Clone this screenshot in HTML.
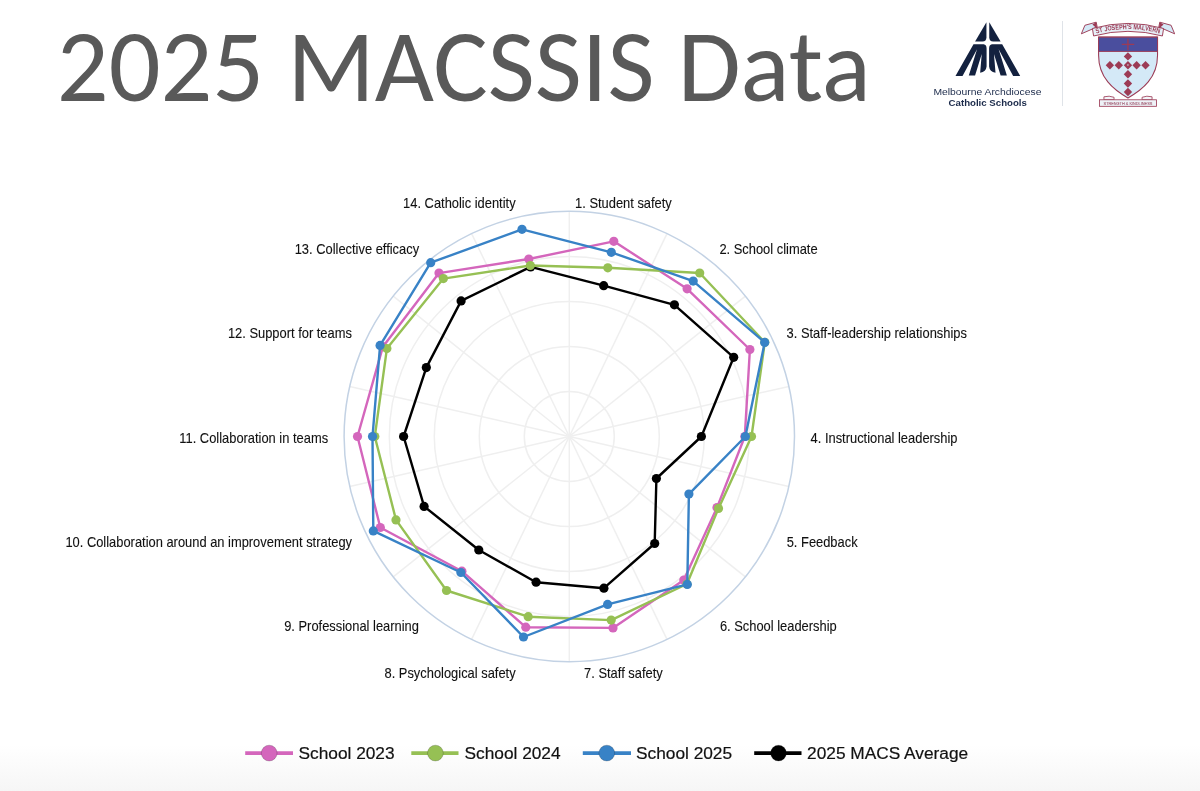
<!DOCTYPE html>
<html><head><meta charset="utf-8"><title>2025 MACSSIS Data</title>
<style>
html,body{margin:0;padding:0;background:#fff;}
body{width:1200px;height:791px;position:relative;overflow:hidden;background:linear-gradient(to bottom,#fff 0,#fff 745px,#f6f6f6 791px);}
h1{position:absolute;left:56.8px;top:14.5px;margin:0;font-family:"Carlito","Liberation Sans",sans-serif;font-weight:normal;color:#595959;font-size:102.3px;line-height:1;white-space:nowrap;}
.mt1,.mt2{position:absolute;font-family:"Liberation Sans",Arial,sans-serif;color:#1b2a4a;white-space:nowrap;line-height:1;}
.mt1{left:933.3px;top:88.4px;font-size:9.4px;letter-spacing:0.55px;}
.mt2{left:948.8px;top:98.8px;font-size:9.8px;font-weight:bold;}
.div{position:absolute;left:1062px;top:21px;width:1px;height:85px;background:#dfe3e8;}
svg.chart,svg.title{position:absolute;left:0;top:0;}
</style></head><body>
<svg class="title" width="900" height="130" viewBox="0 0 900 130"><text x="56.8" y="100.5" textLength="813.9" lengthAdjust="spacingAndGlyphs" font-family="Carlito, Liberation Sans, sans-serif" font-size="102.3" fill="#595959">2025 MACSSIS Data</text></svg>
<svg style="position:absolute;left:950px;top:18px" width="76" height="62" viewBox="0 0 970 791">
<g fill="#13213f">
<g id="h">
<path d="M465,55 L465,245 Q465,298 415,300 L320,300 Z"/>
<path d="M300,335 L430,335 Q467,340 467,390 L467,620 Q460,690 385,700 L405,460 L320,735 L240,735 L345,400 L160,740 L70,740 Z"/>
</g>
<g transform="translate(966,0) scale(-1,1)">
<path d="M465,55 L465,245 Q465,298 415,300 L320,300 Z"/>
<path d="M300,335 L430,335 Q467,340 467,390 L467,620 Q460,690 385,700 L405,460 L320,735 L240,735 L345,400 L160,740 L70,740 Z"/>
</g>
</g></svg>
<svg style="position:absolute;left:920px;top:80px" width="140" height="32" viewBox="920 80 140 32"><g font-family="Liberation Sans, Arial, sans-serif" fill="#1b2a4a">
<text x="933.4" y="94.9" font-size="9.7" textLength="108" lengthAdjust="spacingAndGlyphs">Melbourne Archdiocese</text>
<text x="948.6" y="106.2" font-size="9.8" font-weight="bold" textLength="78.3" lengthAdjust="spacingAndGlyphs">Catholic Schools</text>
</g></svg>
<div class="div"></div>

<svg style="position:absolute;left:1076px;top:16px" width="104" height="94" viewBox="0 0 875 791">
<path d="M190,178 H686 V330 C686,520 560,620 437,690 C315,620 190,520 190,330 Z" fill="#d4e9f7" stroke="#9c3b55" stroke-width="9"/>
<path d="M190,178 H686 V298 H190 Z" fill="#4a4e9e" stroke="#9c3b55" stroke-width="8"/>
<path d="M437,192 V286 M385,238 H490" stroke="#9c3b55" stroke-width="11"/>
<g fill="#9c3b55"><rect x="412" y="315" width="50" height="50" transform="rotate(45 437 340)"/><rect x="260" y="390" width="50" height="50" transform="rotate(45 285 415)"/><rect x="335" y="390" width="50" height="50" transform="rotate(45 360 415)"/><rect x="412" y="390" width="50" height="50" transform="rotate(45 437 415)"/><rect x="485" y="390" width="50" height="50" transform="rotate(45 510 415)"/><rect x="560" y="390" width="50" height="50" transform="rotate(45 585 415)"/><rect x="412" y="465" width="50" height="50" transform="rotate(45 437 490)"/><rect x="412" y="543" width="50" height="50" transform="rotate(45 437 568)"/><rect x="412" y="615" width="50" height="50" transform="rotate(45 437 640)"/></g>
<circle cx="437" cy="412" r="6" fill="#d4e9f7"/>
<path d="M45,150 L75,78 L170,52 L178,92 Z" fill="#d4e9f7" stroke="#9c3b55" stroke-width="8"/>
<path d="M830,150 L800,78 L705,52 L697,92 Z" fill="#d4e9f7" stroke="#9c3b55" stroke-width="8"/>
<path d="M138,105 Q437,20 737,105 L727,168 Q437,90 148,168 Z" fill="#e6f0f8" stroke="#9c3b55" stroke-width="8"/>
<path d="M138,72 L170,52 L178,108 Z M737,72 L705,52 L697,108 Z" fill="#9c3b55"/>
<path id="arc" d="M160,150 Q437,70 715,150" fill="none"/>
<text font-family="Liberation Sans, sans-serif" font-weight="bold" font-size="58" fill="#9c3b55"><textPath href="#arc" startOffset="50%" text-anchor="middle" textLength="540" lengthAdjust="spacingAndGlyphs">ST JOSEPH'S MALVERN</textPath></text>
<path d="M235,680 Q280,668 320,684 L320,705 L235,705 Z M640,680 Q595,668 556,684 L556,705 L640,705 Z" fill="#f3f6fa" stroke="#9c3b55" stroke-width="7"/>
<rect x="198" y="705" width="480" height="55" fill="#eef3f8" stroke="#9c3b55" stroke-width="7"/>
<text x="437" y="748" text-anchor="middle" font-family="Liberation Sans, sans-serif" font-weight="normal" font-size="36" fill="#a0566c" stroke="#a0566c" stroke-width="0.7" textLength="410" lengthAdjust="spacingAndGlyphs">STRENGTH &amp; KINDLINESS</text>
</svg>
<svg class="chart" width="1200" height="791" viewBox="0 0 1200 791">
<circle cx="569.3" cy="436.5" r="45" fill="none" stroke="#efefef" stroke-width="1.5"/>
<circle cx="569.3" cy="436.5" r="90" fill="none" stroke="#efefef" stroke-width="1.5"/>
<circle cx="569.3" cy="436.5" r="135" fill="none" stroke="#efefef" stroke-width="1.5"/>
<circle cx="569.3" cy="436.5" r="180" fill="none" stroke="#efefef" stroke-width="1.5"/>
<line x1="569.3" y1="436.5" x2="569.3" y2="211.3" stroke="#efefef" stroke-width="1.5"/>
<line x1="569.3" y1="436.5" x2="667.0" y2="233.6" stroke="#efefef" stroke-width="1.5"/>
<line x1="569.3" y1="436.5" x2="745.4" y2="296.1" stroke="#efefef" stroke-width="1.5"/>
<line x1="569.3" y1="436.5" x2="788.9" y2="386.4" stroke="#efefef" stroke-width="1.5"/>
<line x1="569.3" y1="436.5" x2="788.9" y2="486.6" stroke="#efefef" stroke-width="1.5"/>
<line x1="569.3" y1="436.5" x2="745.4" y2="576.9" stroke="#efefef" stroke-width="1.5"/>
<line x1="569.3" y1="436.5" x2="667.0" y2="639.4" stroke="#efefef" stroke-width="1.5"/>
<line x1="569.3" y1="436.5" x2="569.3" y2="661.7" stroke="#efefef" stroke-width="1.5"/>
<line x1="569.3" y1="436.5" x2="471.6" y2="639.4" stroke="#efefef" stroke-width="1.5"/>
<line x1="569.3" y1="436.5" x2="393.2" y2="576.9" stroke="#efefef" stroke-width="1.5"/>
<line x1="569.3" y1="436.5" x2="349.7" y2="486.6" stroke="#efefef" stroke-width="1.5"/>
<line x1="569.3" y1="436.5" x2="349.7" y2="386.4" stroke="#efefef" stroke-width="1.5"/>
<line x1="569.3" y1="436.5" x2="393.2" y2="296.1" stroke="#efefef" stroke-width="1.5"/>
<line x1="569.3" y1="436.5" x2="471.6" y2="233.6" stroke="#efefef" stroke-width="1.5"/>
<circle cx="569.3" cy="436.5" r="225.2" fill="none" stroke="#c3d2e4" stroke-width="1.5"/>
<polygon points="603.7,285.7 674.4,304.8 733.7,357.3 701.4,436.5 656.4,478.5 654.7,543.5 603.9,588.2 536.1,582.2 478.8,550.0 424.1,506.4 403.6,436.5 426.3,367.6 461.1,300.9 530.6,266.9" fill="none" stroke="#000000" stroke-width="2.4" stroke-linejoin="round"/>
<circle cx="603.7" cy="285.7" r="4.6" fill="#000000"/><circle cx="674.4" cy="304.8" r="4.6" fill="#000000"/><circle cx="733.7" cy="357.3" r="4.6" fill="#000000"/><circle cx="701.4" cy="436.5" r="4.6" fill="#000000"/><circle cx="656.4" cy="478.5" r="4.6" fill="#000000"/><circle cx="654.7" cy="543.5" r="4.6" fill="#000000"/><circle cx="603.9" cy="588.2" r="4.6" fill="#000000"/><circle cx="536.1" cy="582.2" r="4.6" fill="#000000"/><circle cx="478.8" cy="550.0" r="4.6" fill="#000000"/><circle cx="424.1" cy="506.4" r="4.6" fill="#000000"/><circle cx="403.6" cy="436.5" r="4.6" fill="#000000"/><circle cx="426.3" cy="367.6" r="4.6" fill="#000000"/><circle cx="461.1" cy="300.9" r="4.6" fill="#000000"/><circle cx="530.6" cy="266.9" r="4.6" fill="#000000"/>
<polygon points="613.8,241.3 687.1,288.8 749.9,349.5 744.8,436.5 717.0,507.6 683.8,580.1 613.0,627.9 525.8,627.2 461.9,571.2 380.3,527.5 357.5,436.5 382.9,346.7 439.0,273.1 528.8,259.0" fill="none" stroke="#d466bc" stroke-width="2.4" stroke-linejoin="round"/>
<circle cx="613.8" cy="241.3" r="4.6" fill="#d466bc"/><circle cx="687.1" cy="288.8" r="4.6" fill="#d466bc"/><circle cx="749.9" cy="349.5" r="4.6" fill="#d466bc"/><circle cx="744.8" cy="436.5" r="4.6" fill="#d466bc"/><circle cx="717.0" cy="507.6" r="4.6" fill="#d466bc"/><circle cx="683.8" cy="580.1" r="4.6" fill="#d466bc"/><circle cx="613.0" cy="627.9" r="4.6" fill="#d466bc"/><circle cx="525.8" cy="627.2" r="4.6" fill="#d466bc"/><circle cx="461.9" cy="571.2" r="4.6" fill="#d466bc"/><circle cx="380.3" cy="527.5" r="4.6" fill="#d466bc"/><circle cx="357.5" cy="436.5" r="4.6" fill="#d466bc"/><circle cx="382.9" cy="346.7" r="4.6" fill="#d466bc"/><circle cx="439.0" cy="273.1" r="4.6" fill="#d466bc"/><circle cx="528.8" cy="259.0" r="4.6" fill="#d466bc"/>
<polygon points="607.8,267.8 699.7,273.0 764.8,342.3 751.5,436.5 718.5,508.4 686.9,584.0 611.2,620.1 528.2,616.7 446.5,590.5 396.0,519.9 374.8,436.5 386.9,348.6 443.4,278.6 530.3,265.5" fill="none" stroke="#96c054" stroke-width="2.4" stroke-linejoin="round"/>
<circle cx="607.8" cy="267.8" r="4.6" fill="#96c054"/><circle cx="699.7" cy="273.0" r="4.6" fill="#96c054"/><circle cx="764.8" cy="342.3" r="4.6" fill="#96c054"/><circle cx="751.5" cy="436.5" r="4.6" fill="#96c054"/><circle cx="718.5" cy="508.4" r="4.6" fill="#96c054"/><circle cx="686.9" cy="584.0" r="4.6" fill="#96c054"/><circle cx="611.2" cy="620.1" r="4.6" fill="#96c054"/><circle cx="528.2" cy="616.7" r="4.6" fill="#96c054"/><circle cx="446.5" cy="590.5" r="4.6" fill="#96c054"/><circle cx="396.0" cy="519.9" r="4.6" fill="#96c054"/><circle cx="374.8" cy="436.5" r="4.6" fill="#96c054"/><circle cx="386.9" cy="348.6" r="4.6" fill="#96c054"/><circle cx="443.4" cy="278.6" r="4.6" fill="#96c054"/><circle cx="530.3" cy="265.5" r="4.6" fill="#96c054"/>
<polygon points="611.3,252.3 693.2,281.1 764.7,342.4 745.4,436.5 688.9,494.1 687.3,584.4 607.6,604.4 523.5,637.0 460.9,572.5 373.3,530.9 372.5,436.5 380.1,345.4 430.7,262.7 522.0,229.3" fill="none" stroke="#3882c6" stroke-width="2.4" stroke-linejoin="round"/>
<circle cx="611.3" cy="252.3" r="4.6" fill="#3882c6"/><circle cx="693.2" cy="281.1" r="4.6" fill="#3882c6"/><circle cx="764.7" cy="342.4" r="4.6" fill="#3882c6"/><circle cx="745.4" cy="436.5" r="4.6" fill="#3882c6"/><circle cx="688.9" cy="494.1" r="4.6" fill="#3882c6"/><circle cx="687.3" cy="584.4" r="4.6" fill="#3882c6"/><circle cx="607.6" cy="604.4" r="4.6" fill="#3882c6"/><circle cx="523.5" cy="637.0" r="4.6" fill="#3882c6"/><circle cx="460.9" cy="572.5" r="4.6" fill="#3882c6"/><circle cx="373.3" cy="530.9" r="4.6" fill="#3882c6"/><circle cx="372.5" cy="436.5" r="4.6" fill="#3882c6"/><circle cx="380.1" cy="345.4" r="4.6" fill="#3882c6"/><circle cx="430.7" cy="262.7" r="4.6" fill="#3882c6"/><circle cx="522.0" cy="229.3" r="4.6" fill="#3882c6"/>

<g font-family="Liberation Sans, Arial, sans-serif" font-size="13.9" fill="#111" stroke="#111" stroke-width="0.1">
<text x="575.1" y="207.5" textLength="96.7" lengthAdjust="spacingAndGlyphs">1. Student safety</text>
<text x="719.4" y="253.7" textLength="98.2" lengthAdjust="spacingAndGlyphs">2. School climate</text>
<text x="786.6" y="337.5" textLength="180.3" lengthAdjust="spacingAndGlyphs">3. Staff-leadership relationships</text>
<text x="810.6" y="442.7" textLength="146.9" lengthAdjust="spacingAndGlyphs">4. Instructional leadership</text>
<text x="786.7" y="547.3" textLength="70.9" lengthAdjust="spacingAndGlyphs">5. Feedback</text>
<text x="719.9" y="631.4" textLength="116.8" lengthAdjust="spacingAndGlyphs">6. School leadership</text>
<text x="584.1" y="678.0" textLength="78.6" lengthAdjust="spacingAndGlyphs">7. Staff safety</text>
<text x="515.6" y="678.0" text-anchor="end" textLength="131.1" lengthAdjust="spacingAndGlyphs">8. Psychological safety</text>
<text x="418.9" y="631.3" text-anchor="end" textLength="134.7" lengthAdjust="spacingAndGlyphs">9. Professional learning</text>
<text x="352.0" y="547.3" text-anchor="end" textLength="286.6" lengthAdjust="spacingAndGlyphs">10. Collaboration around an improvement strategy</text>
<text x="328.1" y="442.7" text-anchor="end" textLength="148.8" lengthAdjust="spacingAndGlyphs">11. Collaboration in teams</text>
<text x="351.9" y="337.7" text-anchor="end" textLength="124.0" lengthAdjust="spacingAndGlyphs">12. Support for teams</text>
<text x="419.1" y="253.8" text-anchor="end" textLength="124.4" lengthAdjust="spacingAndGlyphs">13. Collective efficacy</text>
<text x="515.6" y="207.5" text-anchor="end" textLength="112.5" lengthAdjust="spacingAndGlyphs">14. Catholic identity</text>
</g>
<g font-family="Liberation Sans, Arial, sans-serif" font-size="17.3" fill="#111" stroke="#111" stroke-width="0.2">
<line x1="245.2" y1="753.1" x2="293" y2="753.1" stroke="#d466bc" stroke-width="3.8"/><circle cx="269.2" cy="753.1" r="7.9" fill="#d466bc"/><text x="298.5" y="758.8">School 2023</text>
<line x1="411.3" y1="753.1" x2="458.5" y2="753.1" stroke="#96c054" stroke-width="3.8"/><circle cx="435.4" cy="753.1" r="7.9" fill="#96c054"/><text x="464.5" y="758.8">School 2024</text>
<line x1="582.8" y1="753.1" x2="631" y2="753.1" stroke="#3882c6" stroke-width="3.8"/><circle cx="606.8" cy="753.1" r="7.9" fill="#3882c6"/><text x="636.0" y="758.8">School 2025</text>
<line x1="754.2" y1="753.1" x2="801.5" y2="753.1" stroke="#000000" stroke-width="3.8"/><circle cx="778.5" cy="753.1" r="7.9" fill="#000000"/><text x="807.1" y="758.8">2025 MACS Average</text>
</g>
</svg>
</body></html>
